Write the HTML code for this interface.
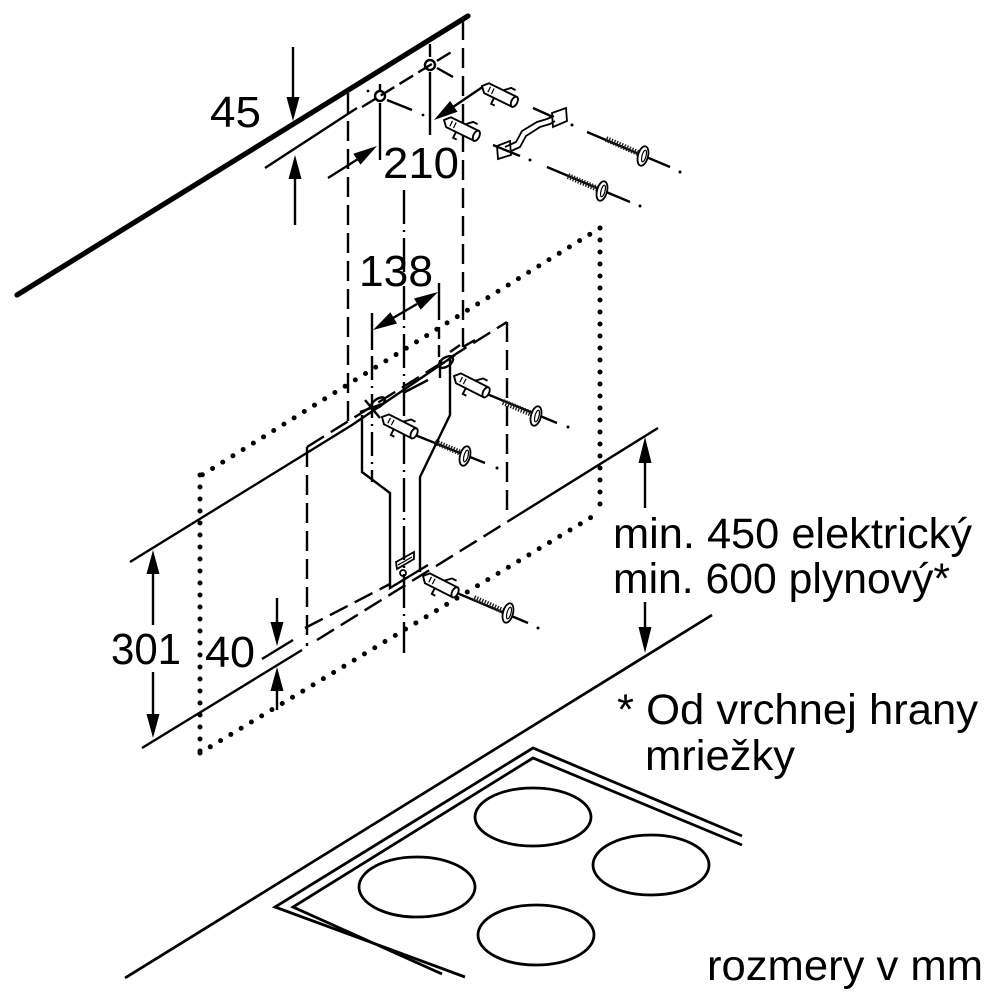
<!DOCTYPE html>
<html><head><meta charset="utf-8"><style>
html,body{margin:0;padding:0;background:#fff;}
svg{display:block;}
text{font-family:"Liberation Sans",Arial,sans-serif;fill:#000;}
</style></head><body>
<svg width="1000" height="1000" viewBox="0 0 1000 1000" xmlns="http://www.w3.org/2000/svg">
<rect width="1000" height="1000" fill="#fff"/>
<g stroke="#000" fill="none" stroke-width="2.4">
  <!-- wall top thick line -->
  <line x1="17" y1="295" x2="468" y2="16" stroke-width="5.2" stroke-linecap="round"/>

  <!-- 45 dimension -->
  <line x1="293" y1="47" x2="293" y2="98"/>
  <line x1="265" y1="168" x2="357" y2="108"/>
  <line x1="295" y1="178" x2="295" y2="225"/>

  <!-- dashed verticals (duct outline) -->
  <g stroke-dasharray="20 8">
    <line x1="348" y1="93" x2="348" y2="423"/>
    <line x1="463" y1="20" x2="463" y2="347"/>
    <line x1="507" y1="322" x2="507" y2="515"/>
    <line x1="307" y1="447" x2="307" y2="646"/>
    <line x1="307" y1="447" x2="507" y2="322"/>
    <line x1="317" y1="640" x2="515" y2="517"/>
    <line x1="305" y1="628" x2="390" y2="584"/>
  </g>
  <line x1="463" y1="347" x2="475" y2="340"/>

  <!-- hole centre line -->
  <line x1="362" y1="107" x2="453" y2="51" stroke-dasharray="16 6"/>
  <circle cx="380" cy="96" r="5"/>
  <circle cx="430" cy="65" r="5"/>
  <line x1="387" y1="100" x2="412" y2="110"/>
  <line x1="437" y1="68" x2="453" y2="77"/>
  <line x1="380" y1="103" x2="380" y2="160"/>
  <line x1="430" y1="72" x2="430" y2="135"/>
  <line x1="380" y1="84" x2="380" y2="90"/>
  <line x1="430" y1="44" x2="430" y2="57"/>
  <g fill="#000" stroke="none">
    <circle cx="368" cy="91" r="1.4"/><circle cx="423" cy="115" r="1.4"/>
    <circle cx="430" cy="40" r="1.4"/>
  </g>

  <!-- 210 dimension lines -->
  <line x1="328" y1="178" x2="358" y2="159"/>
  <line x1="484" y1="86" x2="453" y2="107"/>

  <!-- long centre line -->
  <line x1="404" y1="190" x2="404" y2="653" stroke-dasharray="34 6 2 6"/>

  <!-- 138 dimension -->
  <line x1="372" y1="313" x2="372" y2="350"/>
  <line x1="372" y1="356" x2="372" y2="482" stroke-dasharray="24 6 2 6"/>
  <line x1="439" y1="283" x2="439" y2="320"/>
  <line x1="439" y1="327" x2="439" y2="360" stroke-dasharray="12 6"/>
  <line x1="393" y1="318" x2="417" y2="304"/>

  <!-- dotted rectangle -->
  <g stroke-width="5" stroke-linecap="round" stroke-dasharray="0 12">
    <line x1="600" y1="228" x2="202" y2="475"/>
    <line x1="600" y1="228" x2="600" y2="512"/>
    <line x1="200" y1="475" x2="200" y2="753"/>
    <line x1="200" y1="753" x2="600" y2="512"/>
  </g>

  <!-- solid reference lines -->
  <polyline points="130,562 352,425 455,355"/>
  <line x1="142" y1="748" x2="302" y2="650"/>
  <line x1="262" y1="659" x2="293" y2="640"/>
  <line x1="515" y1="517" x2="658" y2="428"/>
  <line x1="125" y1="978" x2="712" y2="615" stroke-width="2.7"/>

  <!-- 301 / 40 / min arrow shafts -->
  <line x1="153" y1="574" x2="153" y2="625"/>
  <line x1="153" y1="672" x2="153" y2="714"/>
  <line x1="277" y1="598" x2="277" y2="622"/>
  <line x1="277" y1="691" x2="277" y2="710"/>
  <line x1="645" y1="463" x2="645" y2="508"/>
  <line x1="645" y1="602" x2="645" y2="627"/>

  <!-- mounting bracket plate -->
  <polyline points="362,415 362,472 390,493 390,588 428,565"/>
  <polyline points="450,358 450,415 420,477 420,572"/>
  <line x1="403" y1="393" x2="428" y2="380"/>
  <ellipse cx="378" cy="403" rx="8" ry="4" transform="rotate(-35 378 403)"/>
  <line x1="365" y1="400" x2="380" y2="418"/>
  <line x1="360" y1="412" x2="382" y2="404"/>
  <ellipse cx="446" cy="362" rx="8" ry="4.5" transform="rotate(-35 446 362)"/>
  <line x1="440" y1="360" x2="440" y2="378"/>
  <line x1="450" y1="352" x2="460" y2="345" />
  <!-- clip at bottom -->
  <polygon points="396,562 414,552 414,559 397,569" stroke-width="1.8"/>
  <line x1="398" y1="565" x2="412" y2="557" stroke-width="1.2"/>
  <circle cx="403" cy="573" r="3" stroke-width="1.8"/>

  <!-- top small bracket (strap) -->
  <g stroke-width="1.8">
    <polygon points="552,113 566,108 567,121 553,127"/>
    <polygon points="497,146 510,141 511,155 498,159"/>
    <polyline points="505,147 516,142 522,131 537,122 547,119 554,116"/>
    <polyline points="509,152 520,147 526,136 540,127 550,124 555,121"/>
  </g>
  <line x1="533" y1="108" x2="553" y2="117"/>
  <line x1="493" y1="145" x2="520" y2="156"/>

  <!-- screws -->
  <g>
    <line x1="587" y1="132" x2="670" y2="167"/>
    <line x1="547" y1="167" x2="630" y2="202"/>
    <line x1="487" y1="394" x2="557" y2="423"/>
    <line x1="415" y1="435" x2="485" y2="463"/>
    <line x1="457" y1="593" x2="528" y2="623"/>
  </g>
  <g stroke-width="6" stroke-dasharray="1.4 1.4" stroke="#222">
    <line x1="606" y1="139" x2="638" y2="153"/>
    <line x1="568" y1="176" x2="598" y2="189"/>
    <line x1="503" y1="402" x2="532" y2="414"/>
    <line x1="435" y1="442" x2="461" y2="453"/>
    <line x1="474" y1="598" x2="503" y2="611"/>
  </g>
  <g stroke-width="1.8" fill="#fff">
    <ellipse cx="643" cy="156" rx="5" ry="10" transform="rotate(15 643 156)"/>
    <ellipse cx="602" cy="191" rx="5" ry="10" transform="rotate(15 602 191)"/>
    <ellipse cx="536" cy="416" rx="5" ry="10" transform="rotate(15 536 416)"/>
    <ellipse cx="465" cy="456" rx="5" ry="10" transform="rotate(15 465 456)"/>
    <ellipse cx="508" cy="613" rx="5" ry="10" transform="rotate(15 508 613)"/>
  </g>
  <g stroke-width="1.2">
    <ellipse cx="644" cy="156" rx="2" ry="6" transform="rotate(15 644 156)"/>
    <ellipse cx="603" cy="191" rx="2" ry="6" transform="rotate(15 603 191)"/>
    <ellipse cx="537" cy="416" rx="2" ry="6" transform="rotate(15 537 416)"/>
    <ellipse cx="466" cy="456" rx="2" ry="6" transform="rotate(15 466 456)"/>
    <ellipse cx="509" cy="613" rx="2" ry="6" transform="rotate(15 509 613)"/>
  </g>
  <g fill="#000" stroke="none">
    <circle cx="680" cy="172" r="1.5"/><circle cx="640" cy="206" r="1.5"/>
    <circle cx="572" cy="125" r="1.5"/><circle cx="530" cy="160" r="1.5"/>
    <circle cx="568" cy="427" r="1.5"/><circle cx="497" cy="468" r="1.5"/>
    <circle cx="538" cy="628" r="1.5"/>
  </g>

  <!-- anchors (wall plugs) -->
  <g stroke-width="1.9" fill="#fff">
    <g transform="translate(482,86) rotate(26)">
      <polygon points="0,0 5,-5.5 36,-5.5 36,5.5 5,5.5"/><ellipse cx="36" cy="0" rx="3" ry="5.5"/>
      <line x1="8" y1="-3" x2="8" y2="3" stroke-width="1.2"/><line x1="12" y1="-3" x2="12" y2="3" stroke-width="1.2"/>
      <polyline points="21,-5.5 27,-11 32,-11" fill="none"/><polyline points="16,5.5 16,12 20,12" fill="none"/>
    </g>
    <g transform="translate(444,120) rotate(26)">
      <polygon points="0,0 5,-5.5 36,-5.5 36,5.5 5,5.5"/><ellipse cx="36" cy="0" rx="3" ry="5.5"/>
      <line x1="8" y1="-3" x2="8" y2="3" stroke-width="1.2"/><line x1="12" y1="-3" x2="12" y2="3" stroke-width="1.2"/>
      <polyline points="21,-5.5 27,-11 32,-11" fill="none"/><polyline points="16,5.5 16,12 20,12" fill="none"/>
    </g>
    <g transform="translate(454,376) rotate(27)">
      <polygon points="0,0 5,-5.5 36,-5.5 36,5.5 5,5.5"/><ellipse cx="36" cy="0" rx="3" ry="5.5"/>
      <line x1="8" y1="-3" x2="8" y2="3" stroke-width="1.2"/><line x1="12" y1="-3" x2="12" y2="3" stroke-width="1.2"/>
      <polyline points="21,-5.5 27,-11 32,-11" fill="none"/><polyline points="16,5.5 16,12 20,12" fill="none"/>
    </g>
    <g transform="translate(382,417) rotate(27)">
      <polygon points="0,0 5,-5.5 36,-5.5 36,5.5 5,5.5"/><ellipse cx="36" cy="0" rx="3" ry="5.5"/>
      <line x1="8" y1="-3" x2="8" y2="3" stroke-width="1.2"/><line x1="12" y1="-3" x2="12" y2="3" stroke-width="1.2"/>
      <polyline points="21,-5.5 27,-11 32,-11" fill="none"/><polyline points="16,5.5 16,12 20,12" fill="none"/>
    </g>
    <g transform="translate(423,576) rotate(27)">
      <polygon points="0,0 5,-5.5 36,-5.5 36,5.5 5,5.5"/><ellipse cx="36" cy="0" rx="3" ry="5.5"/>
      <line x1="8" y1="-3" x2="8" y2="3" stroke-width="1.2"/><line x1="12" y1="-3" x2="12" y2="3" stroke-width="1.2"/>
      <polyline points="21,-5.5 27,-11 32,-11" fill="none"/><polyline points="16,5.5 16,12 20,12" fill="none"/>
    </g>
  </g>

  <!-- cooktop -->
  <g stroke-width="2.8">
    <polyline points="465,977 275,907 533,748 742,836"/>
    <polyline points="442,974 293,907 533,758 742,845"/>
    <ellipse cx="533" cy="817" rx="58" ry="29"/>
    <ellipse cx="417" cy="887" rx="58" ry="30"/>
    <ellipse cx="651" cy="865" rx="58" ry="30"/>
    <ellipse cx="536" cy="935" rx="58" ry="30"/>
  </g>
</g>

<!-- arrowheads -->
<g fill="#000" stroke="none">
  <polygon points="293,121 286.5,97 299.5,97"/>
  <polygon points="295,155 288.5,179 301.5,179"/>
  <polygon points="377,146 360.5,164.6 353.3,153.7"/>
  <polygon points="434,120 457.5,111.8 450.1,101"/>
  <polygon points="373,330 397,323.5 390.4,312.3"/>
  <polygon points="438,292 420.6,309.7 414,298.5"/>
  <polygon points="153,550 146.5,574 159.5,574"/>
  <polygon points="153,738 146.5,714 159.5,714"/>
  <polygon points="277,646 270.5,622 283.5,622"/>
  <polygon points="277,667 270.5,691 283.5,691"/>
  <polygon points="645,437 638.5,463 651.5,463"/>
  <polygon points="645,653 638.5,627 651.5,627"/>
</g>

<!-- labels -->
<g font-size="44">
  <text x="210" y="127" textLength="51" lengthAdjust="spacingAndGlyphs">45</text>
  <text x="383" y="178" textLength="76" lengthAdjust="spacingAndGlyphs">210</text>
  <text x="359" y="286" textLength="74" lengthAdjust="spacingAndGlyphs">138</text>
  <text x="111" y="664" textLength="70" lengthAdjust="spacingAndGlyphs">301</text>
  <text x="205" y="667" textLength="50" lengthAdjust="spacingAndGlyphs">40</text>
</g>
<g font-size="43">
  <text x="613" y="548" textLength="359" lengthAdjust="spacingAndGlyphs">min. 450 elektrický</text>
  <text x="613" y="593" textLength="337" lengthAdjust="spacingAndGlyphs">min. 600 plynový*</text>
  <text x="617" y="724" textLength="361" lengthAdjust="spacingAndGlyphs">* Od vrchnej hrany</text>
  <text x="645" y="770" textLength="150" lengthAdjust="spacingAndGlyphs">mriežky</text>
  <text x="707" y="980" textLength="276" lengthAdjust="spacingAndGlyphs">rozmery v mm</text>
</g>
</svg>
</body></html>
